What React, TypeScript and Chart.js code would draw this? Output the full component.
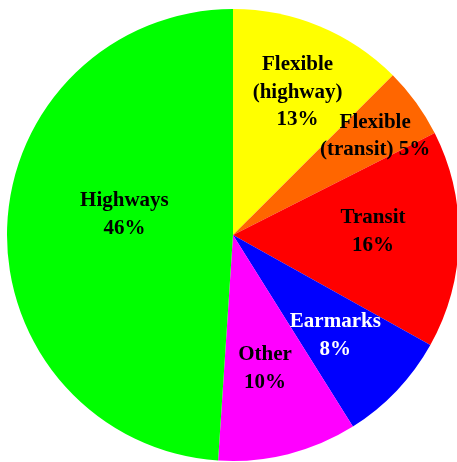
import React, { useEffect, useRef } from "react";
import { Chart, registerables } from "chart.js";

Chart.register(...registerables);

const categories = [
  "Flexible (highway)",
  "Flexible (transit)",
  "Transit",
  "Earmarks",
  "Other",
  "Highways",
];
const shares = [12.5, 5.05, 15.55, 8.0, 9.95, 48.95];
const labelLines = [
  ["Flexible", "(highway)", "13%"],
  ["Flexible", "(transit) 5%"],
  ["Transit", "16%"],
  ["Earmarks", "8%"],
  ["Other", "10%"],
  ["Highways", "46%"],
];
const colors = ["#FFFF00", "#FF6600", "#FF0000", "#0000FF", "#FF00FF", "#00FF00"];
const textColors = ["#000", "#000", "#000", "#fff", "#000", "#000"];
// label anchor: fraction of radius, angle shift (deg) from slice middle
const labelRadius = [0.7, 0.77, 0.62, 0.63, 0.6, 0.49];
const labelAngleShift = [1.6, 0.7, -3.2, 0.5, 0.5, 9.5];

const labelPlugin = {
  id: "sliceLabels",
  afterDatasetsDraw(chart: any) {
    const ctx = chart.ctx;
    const meta = chart.getDatasetMeta(0);
    const lh = 27.5;
    ctx.save();
    ctx.font = "bold 21px 'Liberation Serif', 'Times New Roman', serif";
    ctx.textAlign = "center";
    ctx.textBaseline = "alphabetic";
    meta.data.forEach((arc: any, i: number) => {
      const p = arc.getProps(["x", "y", "startAngle", "endAngle", "outerRadius"], true);
      const mid = (p.startAngle + p.endAngle) / 2 + (labelAngleShift[i] * Math.PI) / 180;
      const r = p.outerRadius * labelRadius[i];
      const cx = p.x + Math.cos(mid) * r;
      const cy = p.y + Math.sin(mid) * r;
      const lines = labelLines[i];
      ctx.fillStyle = textColors[i];
      lines.forEach((t, j) => {
        const by = cy + (j - (lines.length - 1) / 2) * lh + 7;
        ctx.fillText(t, cx, by);
      });
    });
    ctx.restore();
  },
};

export default function App() {
  const ref = useRef<HTMLCanvasElement | null>(null);
  useEffect(() => {
    document.body.style.margin = "0";
    const chart = new Chart(ref.current as HTMLCanvasElement, {
      type: "pie",
      data: {
        labels: categories,
        datasets: [
          {
            data: shares,
            backgroundColor: colors,
            borderWidth: 0,
          },
        ],
      },
      options: {
        animation: false,
        responsive: false,
        layout: { padding: { left: 7, right: 1, top: 9, bottom: 1 } },
        plugins: {
          legend: { display: false },
          tooltip: { enabled: false },
        },
      },
      plugins: [labelPlugin],
    });
    return () => chart.destroy();
  }, []);
  return (
    <div
      style={{
        position: "absolute",
        left: 0,
        top: 0,
        width: 457,
        height: 462,
        overflow: "hidden",
        background: "#fff",
      }}
    >
      <canvas ref={ref} width={460} height={462} style={{ display: "block" }} />
    </div>
  );
}
